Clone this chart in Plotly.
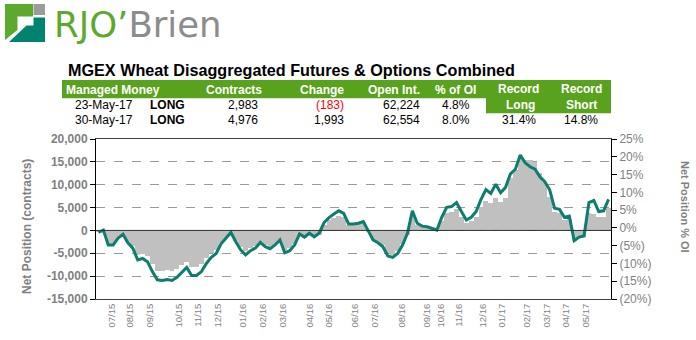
import pandas as pd
import plotly.graph_objects as go

# ---------------- data ----------------
report_dates = pd.date_range(end="2017-05-30", periods=105, freq="7D")

net_contracts = [
    -400, -300, -2900, -2900, -1750, -1100, -2500, -3450, -5400, -5150,
    -5700, -7400, -8800, -8900, -8700, -8900, -8350, -7550, -7000, -8050,
    -8050, -7400, -6000, -5000, -4300, -2700, -1750, -800, -2300, -3700,
    -4550, -3850, -3450, -2450, -3150, -3550, -2900, -2050, -4200, -3850,
    -2900, -1050, -1600, -900, -1500, -900, 1200, 2300, 2700, 3150,
    2850, 1200,
    1200, 1400, 1900, -400, -2050, -2500, -3200, -5000, -5400, -4600,
    -3000, -900, 3600, 1200, 800, 600, 200, -100, 2000, 3900,
    4100, 4700, 3000, 1600, 2000, 3000, 5200, 6400, 5900, 7200,
    6200, 7000, 11500, 13200, 15800, 15400, 15400, 15000, 12500, 10500,
    7300, 4000, 3800, 2200, 2400, -2300, -1700, -1450, 3800, 3600,
    2900, 2983, 4976,
]

pct_oi = [
    -1.3, -0.6, -4.8, -4.8, -2.9, -1.8, -4.2, -5.7, -9.0, -8.6,
    -9.5, -12.3, -14.6, -14.8, -14.5, -14.8, -13.9, -12.6, -11.1, -13.4,
    -13.4, -12.3, -10.0, -8.3, -7.2, -4.5, -2.9, -1.3, -3.9, -6.2,
    -7.6, -6.4, -5.7, -4.1, -5.3, -5.9, -4.8, -3.4, -7.0, -6.4,
    -4.8, -1.7, -2.6, -1.5, -2.5, -1.5, 1.5, 2.9, 3.9, 4.8,
    4.1, 1.1,
    1.1, 1.3, 1.8, -0.6, -3.4, -4.2, -5.3, -7.9, -8.3, -7.2,
    -4.8, -1.5, 4.8, 1.3, 0.5, 0.3, -0.1, -0.6, 3.0, 5.8,
    6.0, 7.1, 4.6, 2.2, 3.0, 4.6, 8.0, 10.8, 9.7, 12.3,
    9.9, 11.4, 15.2, 16.5, 20.5, 18.3, 17.2, 16.5, 14.4, 13.0,
    10.7, 5.5, 5.2, 3.0, 3.3, -3.6, -2.6, -2.3, 7.1, 7.7,
    4.6, 4.8, 8.0,
]

tick_labels = ["07/15", "08/15", "09/15", "10/15", "11/15", "12/15",
               "01/16", "02/16", "03/16", "04/16", "05/16", "06/16",
               "07/16", "08/16", "09/16", "10/16", "11/16", "12/16",
               "01/17", "02/17", "03/17", "04/17", "05/17"]
tick_week_pos = [2.7, 6.4, 10.4, 16.4, 20.3, 24.4, 29.5, 33.5, 37.6, 43.1,
                 47.0, 52.3, 56.4, 61.8, 66.9, 69.8, 73.5, 78.4, 82.2, 87.3,
                 91.4, 95.3, 99.4]

left_ticks = [-15000, -10000, -5000, 0, 5000, 10000, 15000, 20000]
left_ticktext = ["-15,000", "-10,000", "-5,000", "0", "5,000", "10,000", "15,000", "20,000"]
right_ticks = [-20, -15, -10, -5, 0, 5, 10, 15, 20, 25]
right_ticktext = ["(20%)", "(15%)", "(10%)", "(5%)", "0%", "5%", "10%", "15%", "20%", "25%"]

header_cols = ["Contracts", "Change", "Open Int.", "% of OI"]
row_dates = ["23-May-17", "30-May-17"]
row_side = ["LONG", "LONG"]
row_contracts = ["2,983", "4,976"]
row_change = ["(183)", "1,993"]
row_change_color = ["#FF0000", "#000000"]
row_oi = ["62,224", "62,554"]
row_pct = ["4.8%", "8.0%"]
record_long = "31.4%"
record_short = "14.8%"

# ---------------- layout helpers ----------------
W, H = 696, 340
L, R, T, B = 96, 611, 139, 299


def px(x):
    return (x - L) / (R - L)


def py(y):
    return (B - y) / (B - T)


def path(points):
    return "M " + " L ".join(f"{px(a):.5f},{py(b):.5f}" for a, b in points) + " Z"


FONT = "Liberation Sans, Arial, sans-serif"
GREEN = "#58A21E"
GRAY_TXT = "#7F7F7F"

fig = go.Figure()

week_ms = 7 * 24 * 3600 * 1000
fig.add_trace(go.Bar(
    x=report_dates, y=net_contracts, width=week_ms,
    marker=dict(color="#C0C0C0", line=dict(width=0)),
    yaxis="y", hoverinfo="x+y",
))
fig.add_trace(go.Scatter(
    x=report_dates, y=pct_oi, mode="lines",
    line=dict(color="#0E7D6D", width=3),
    yaxis="y2",
))

tickvals = [report_dates[0] + pd.Timedelta(days=7 * w) for w in tick_week_pos]

fig.update_layout(
    width=W, height=H,
    margin=dict(l=L, r=W - R, t=T, b=H - B, pad=0),
    paper_bgcolor="white", plot_bgcolor="white",
    showlegend=False, bargap=0,
    font=dict(family=FONT, color=GRAY_TXT),
    xaxis=dict(
        type="date",
        range=[report_dates[0] - pd.Timedelta(days=3.5), report_dates[-1] + pd.Timedelta(days=3.5)],
        tickmode="array", tickvals=tickvals, ticktext=tick_labels,
        tickangle=-90, tickfont=dict(size=9.5, color=GRAY_TXT, family=FONT),
        showgrid=False, showline=True, linecolor="#404040", linewidth=1, mirror=True,
        ticks="", zeroline=False,
    ),
    yaxis=dict(
        range=[-15000, 20000], tickmode="array", tickvals=left_ticks, ticktext=left_ticktext,
        tickfont=dict(size=12, color=GRAY_TXT, family=FONT, weight="bold"),
        showgrid=True, gridcolor="#9A9A9A", griddash="dash", gridwidth=1,
        showline=True, linecolor="#000000", linewidth=1,
        ticks="outside", ticklen=5, tickcolor="#000000",
        zeroline=False,
    ),
    yaxis2=dict(
        range=[-20, 25], overlaying="y", side="right",
        tickmode="array", tickvals=right_ticks, ticktext=right_ticktext,
        tickfont=dict(size=12, color=GRAY_TXT, family=FONT),
        showgrid=False, showline=True, linecolor="#000000", linewidth=1,
        ticks="outside", ticklen=5, tickcolor="#000000", zeroline=False,
    ),
)

shapes = []
# zero line over the bars
shapes.append(dict(type="line", xref="paper", yref="y", x0=0, x1=1, y0=0, y1=0,
                   line=dict(color="#303030", width=1), layer="above"))
# table header green bars
shapes.append(dict(type="rect", xref="paper", yref="paper", x0=px(62), x1=px(611),
                   y0=py(98.3), y1=py(80), fillcolor=GREEN, line=dict(width=0)))
shapes.append(dict(type="rect", xref="paper", yref="paper", x0=px(486), x1=px(611),
                   y0=py(113.3), y1=py(98), fillcolor=GREEN, line=dict(width=0)))
# logo icon
shapes.append(dict(type="path", xref="paper", yref="paper",
                   path=path([(5, 4), (33, 4), (33, 16.5), (17.5, 16.5), (17.5, 30), (5, 40)]),
                   fillcolor="#5BAA2D", line=dict(width=0)))
shapes.append(dict(type="path", xref="paper", yref="paper",
                   path=path([(33.5, 17.5), (45, 17.5), (45, 42), (9, 42), (26.5, 25.5), (33.5, 25.5)]),
                   fillcolor="#00846F", line=dict(width=0)))
shapes.append(dict(type="rect", xref="paper", yref="paper", x0=px(33.5), x1=px(45),
                   y0=py(15), y1=py(4), fillcolor="#9B9B9B", line=dict(width=0)))

ann = []


def text(x, y, s, size=12, color="#000000", bold=False, xanchor="center", angle=0):
    ann.append(dict(xref="paper", yref="paper", x=px(x), y=py(y), text=s,
                    showarrow=False, xanchor=xanchor, yanchor="middle", textangle=angle,
                    font=dict(family=FONT, size=size, color=color,
                              weight="bold" if bold else "normal")))


# logo text
ann.append(dict(xref="paper", yref="paper", x=px(52), y=py(24.5), xanchor="left", yanchor="middle",
                showarrow=False,
                text="<span style='color:#5BAA2D'>RJO’</span><span style='color:#8C8C8C'>Brien</span>",
                font=dict(family="DejaVu Sans, sans-serif", size=35.5)))

# title
text(66, 70.5, "MGEX Wheat Disaggregated Futures & Options Combined", size=16.2, bold=True, xanchor="left")

# header
text(64, 89.5, "Managed Money", bold=True, color="white", xanchor="left")
for s, cx in zip(header_cols, [233.5, 322, 393.5, 455]):
    text(cx, 89.5, s, bold=True, color="white")
text(518.5, 88.5, "Record", bold=True, color="white")
text(520, 104.5, "Long", bold=True, color="white")
text(581, 88.5, "Record", bold=True, color="white")
text(581, 104.5, "Short", bold=True, color="white")

# rows
for i, yy in enumerate([105, 120]):
    text(73, yy, row_dates[i], xanchor="left")
    text(148, yy, row_side[i], bold=True, xanchor="left")
    text(259.5, yy, row_contracts[i], xanchor="right")
    text(345.5, yy, row_change[i], xanchor="right", color=row_change_color[i])
    text(422, yy, row_oi[i], xanchor="right")
    text(456, yy, row_pct[i])
text(518.5, 120, record_long)
text(581, 120, record_short)

# axis titles
text(27, 227, "Net Position (contracts)", size=12, bold=True, color=GRAY_TXT, angle=-90)
text(685, 207, "Net Position % OI", size=11, bold=True, color=GRAY_TXT, angle=90)

fig.update_layout(shapes=shapes, annotations=ann)
fig.write_html("out.html")
